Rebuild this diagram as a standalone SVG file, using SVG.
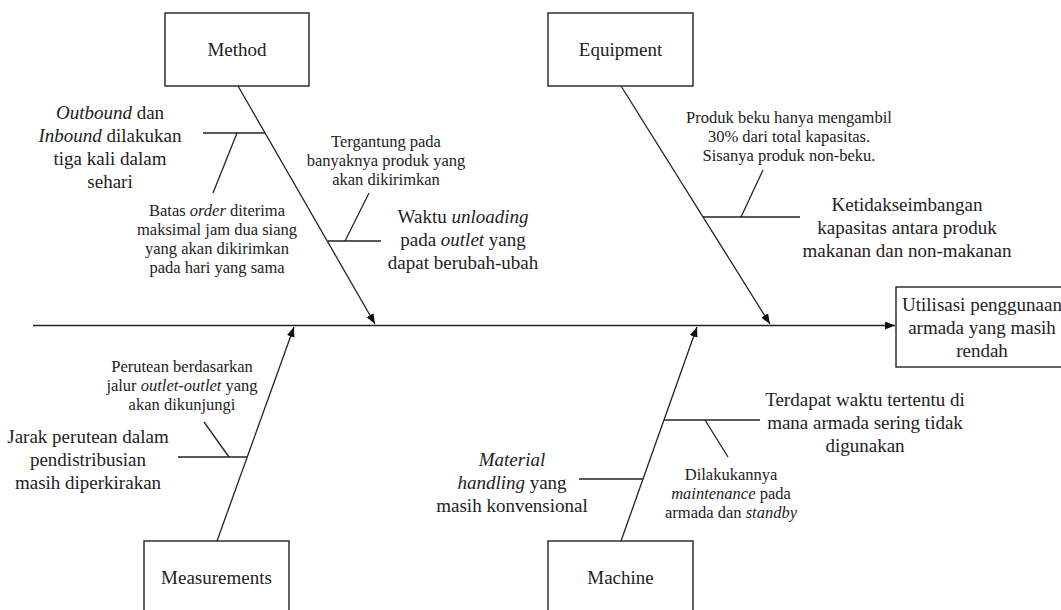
<svg xmlns="http://www.w3.org/2000/svg" width="1061" height="610" viewBox="0 0 1061 610">
<defs>
<style>
.box{fill:#fff;stroke:#222;stroke-width:1.4}
.ln{fill:none;stroke:#222;stroke-width:1.3}
text{font-family:"Liberation Serif","Times New Roman",serif;fill:#222;text-anchor:middle}
.L{font-size:19px}
.S{font-size:16.5px}
.i{font-style:italic}
</style>
<marker id="ah" markerUnits="userSpaceOnUse" markerWidth="11" markerHeight="9" refX="10" refY="4" orient="auto">
<path d="M0,0 L10,4 L0,8 Z" fill="#111"/>
</marker>
</defs>
<rect width="1061" height="610" fill="#fff"/>
<g id="connectors">
<line class="ln" x1="33" y1="325.5" x2="895" y2="325.5" marker-end="url(#ah)"/>
<line class="ln" x1="238" y1="86" x2="375" y2="324" marker-end="url(#ah)"/>
<line class="ln" x1="621" y1="86" x2="770" y2="324" marker-end="url(#ah)"/>
<line class="ln" x1="217" y1="541" x2="294" y2="327" marker-end="url(#ah)"/>
<line class="ln" x1="621" y1="541" x2="697" y2="327" marker-end="url(#ah)"/>
<line class="ln" x1="203" y1="133" x2="265" y2="133"/>
<line class="ln" x1="237" y1="133" x2="213" y2="193"/>
<line class="ln" x1="328" y1="241" x2="381" y2="241"/>
<line class="ln" x1="345" y1="241" x2="369" y2="193"/>
<line class="ln" x1="703" y1="217" x2="800" y2="217"/>
<line class="ln" x1="741" y1="217" x2="763" y2="170"/>
<line class="ln" x1="178" y1="457" x2="247" y2="457"/>
<line class="ln" x1="229" y1="457" x2="204" y2="422"/>
<line class="ln" x1="579" y1="479" x2="643" y2="479"/>
<line class="ln" x1="664" y1="420" x2="760" y2="420"/>
<line class="ln" x1="705" y1="420" x2="728" y2="457"/>
</g>
<g id="method">
<rect class="box" x="165" y="13" width="144" height="73"/>
<text class="L" x="237" y="56">Method</text>
</g>
<g id="equipment">
<rect class="box" x="548" y="13" width="145" height="73"/>
<text class="L" x="620.5" y="56">Equipment</text>
</g>
<g id="measurements">
<rect class="box" x="144" y="541" width="145" height="80"/>
<text class="L" x="216.5" y="584">Measurements</text>
</g>
<g id="machine">
<rect class="box" x="548" y="541" width="145" height="80"/>
<text class="L" x="620.5" y="584">Machine</text>
</g>
<g id="effect">
<rect class="box" x="896" y="287" width="175" height="80"/>
<text class="L" x="982" y="311">Utilisasi penggunaan</text>
<text class="L" x="982" y="334">armada yang masih</text>
<text class="L" x="982" y="357">rendah</text>
</g>
<g id="cause-outbound">
<text class="L" x="110" y="119"><tspan class="i">Outbound</tspan> dan</text>
<text class="L" x="110" y="142"><tspan class="i">Inbound</tspan> dilakukan</text>
<text class="L" x="110" y="165">tiga kali dalam</text>
<text class="L" x="110" y="188">sehari</text>
</g>
<g id="cause-batas">
<text class="S" x="217" y="216">Batas <tspan class="i">order</tspan> diterima</text>
<text class="S" x="217" y="235">maksimal jam dua siang</text>
<text class="S" x="217" y="254">yang akan dikirimkan</text>
<text class="S" x="217" y="273">pada hari yang sama</text>
</g>
<g id="cause-tergantung">
<text class="S" x="386" y="147">Tergantung pada</text>
<text class="S" x="386" y="166">banyaknya produk yang</text>
<text class="S" x="386" y="185">akan dikirimkan</text>
</g>
<g id="cause-waktu">
<text class="L" x="463" y="223">Waktu <tspan class="i">unloading</tspan></text>
<text class="L" x="463" y="246">pada <tspan class="i">outlet</tspan> yang</text>
<text class="L" x="463" y="269">dapat berubah-ubah</text>
</g>
<g id="cause-produk">
<text class="S" x="789" y="123">Produk beku hanya mengambil</text>
<text class="S" x="789" y="142">30% dari total kapasitas.</text>
<text class="S" x="789" y="161">Sisanya produk non-beku.</text>
</g>
<g id="cause-ketidak">
<text class="L" x="907" y="211">Ketidakseimbangan</text>
<text class="L" x="907" y="234">kapasitas antara produk</text>
<text class="L" x="907" y="257">makanan dan non-makanan</text>
</g>
<g id="cause-perutean">
<text class="S" x="182" y="372">Perutean berdasarkan</text>
<text class="S" x="182" y="391">jalur <tspan class="i">outlet-outlet</tspan> yang</text>
<text class="S" x="182" y="410">akan dikunjungi</text>
</g>
<g id="cause-jarak">
<text class="L" x="88" y="443">Jarak perutean dalam</text>
<text class="L" x="88" y="466">pendistribusian</text>
<text class="L" x="88" y="489">masih diperkirakan</text>
</g>
<g id="cause-material">
<text class="L" x="512" y="466"><tspan class="i">Material</tspan></text>
<text class="L" x="512" y="489"><tspan class="i">handling</tspan> yang</text>
<text class="L" x="512" y="512">masih konvensional</text>
</g>
<g id="cause-maintenance">
<text class="S" x="731" y="480">Dilakukannya</text>
<text class="S" x="731" y="499"><tspan class="i">maintenance</tspan> pada</text>
<text class="S" x="731" y="518">armada dan <tspan class="i">standby</tspan></text>
</g>
<g id="cause-terdapat">
<text class="L" x="865" y="406">Terdapat waktu tertentu di</text>
<text class="L" x="865" y="429">mana armada sering tidak</text>
<text class="L" x="865" y="452">digunakan</text>
</g>
</svg>
